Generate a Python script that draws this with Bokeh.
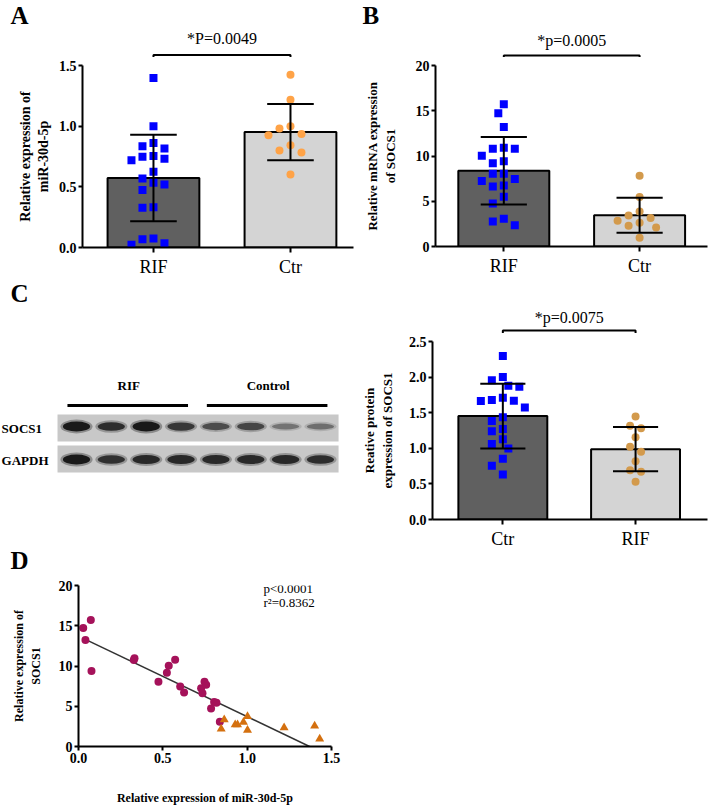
import numpy as np
from bokeh.plotting import figure
from bokeh.models import Range1d, FixedTicker, Label, NumeralTickFormatter
from bokeh.layouts import column, row
from bokeh.embed import file_html
from bokeh.resources import INLINE

# ---------------- data ----------------
# Panel A: relative expression of miR-30d-5p
a_categories = ["RIF", "Ctr"]
a_rif = [1.396, 1.000, 0.862, 0.835, 0.816, 0.755, 0.747, 0.731, 0.720, 0.624,
         0.569, 0.534, 0.520, 0.474, 0.331, 0.328, 0.074, 0.068, 0.036, 0.022]
a_ctr = [1.423, 1.218, 0.999, 0.980, 0.936, 0.925, 0.843, 0.800, 0.783, 0.602]
a_yticks = [0.0, 0.5, 1.0, 1.5]
a_ylabel = "Relative expression of\nmiR-30d-5p"
a_ptext = "*P=0.0049"

# Panel B: relative mRNA expression of SOCS1
b_categories = ["RIF", "Ctr"]
b_rif = [15.72, 14.72, 13.21, 10.92, 10.81, 10.81, 10.04, 9.41, 9.19, 8.04,
         8.04, 7.45, 7.23, 6.75, 6.64, 5.50, 4.76, 3.06, 2.77, 2.36]
b_ctr = [7.82, 5.46, 3.87, 3.43, 3.14, 2.84, 2.62, 2.29, 2.10, 0.96]
b_yticks = [0, 5, 10, 15, 20]
b_ylabel = "Relative mRNA expression\nof SOCS1"
b_ptext = "*p=0.0005"

# Panel C (blot): band strengths per lane
blot_groups = ["RIF", "Control"]
blot_lanes_per_group = 4
blot_proteins = ["SOCS1", "GAPDH"]
socs1_band = [0.97, 0.82, 0.98, 0.75, 0.62, 0.66, 0.40, 0.42]
gapdh_band = [0.98, 0.80, 0.86, 0.86, 0.85, 0.85, 0.86, 0.82]

# Panel C (bars): relative protein expression of SOCS1
c_categories = ["Ctr", "RIF"]
c_ctr = [2.296, 2.003, 1.956, 1.877, 1.863, 1.709, 1.677, 1.667, 1.663, 1.574,
         1.435, 1.383, 1.272, 1.239, 1.127, 1.062, 0.997, 0.852, 0.755, 0.633]
c_rif = [1.447, 1.316, 1.283, 1.156, 1.021, 0.950, 0.819, 0.693, 0.669, 0.529]
c_yticks = [0.0, 0.5, 1.0, 1.5, 2.0, 2.5]
c_ylabel = "Reative protein\nexpression of SOCS1"
c_ptext = "*p=0.0075"

# Panel D: correlation
d_circle_x = [0.028, 0.073, 0.041, 0.077, 0.332, 0.328, 0.474, 0.524, 0.535, 0.573,
              0.603, 0.626, 0.727, 0.735, 0.747, 0.757, 0.804, 0.818, 0.786, 0.838]
d_circle_y = [14.71, 15.71, 13.24, 9.38, 10.95, 10.75, 8.03, 9.15, 10.02, 10.78,
              7.44, 6.72, 7.24, 6.60, 8.03, 7.67, 5.53, 5.45, 4.73, 3.06]
d_tri_x = [0.864, 0.846, 0.929, 0.943, 0.978, 1.002, 1.002, 1.219, 1.400, 1.430]
d_tri_y = [3.34, 2.19, 2.70, 2.70, 3.02, 3.74, 2.03, 2.35, 2.55, 0.95]
d_xticks = [0.0, 0.5, 1.0, 1.5]
d_yticks = [0, 5, 10, 15, 20]
d_xlabel = "Relative expression of miR-30d-5p"
d_ylabel = "Relative expression of\nSOCS1"
d_stats = ["p<0.0001", "r\u00b2=0.8362"]

panel_letters = ["A", "B", "C", "D"]

# ---------------- styling / layout ----------------
FONT = "Liberation Serif"
BLUE = "#0000FF"
DARK_BAR = "#606060"
LIGHT_BAR = "#D4D4D4"
LETTER_SIZE = "25px"


def geom(ox, oy, W, H, bl, br, bt, bb, x0, x1, y0, y1):
    fw = W - bl - br
    fh = H - bt - bb
    return dict(ox=ox, oy=oy, W=W, H=H, bl=bl, br=br, bt=bt, bb=bb,
                x0=x0, x1=x1, y0=y0, y1=y1, ppx=fw / (x1 - x0), ppy=fh / (y1 - y0))


def x_to_px(g, xv):
    return g["ox"] + g["bl"] + (xv - g["x0"]) * g["ppx"]


def px_x(g, px):
    return g["x0"] + (px - g["ox"] - g["bl"]) / g["ppx"]


def px_y(g, py):
    return g["y0"] + (g["oy"] + g["H"] - g["bb"] - py) / g["ppy"]


def no_align(p):
    if "frame_align" in p.properties():
        p.frame_align = False
    return p


def new_fig(g):
    p = figure(width=g["W"], height=g["H"],
               x_range=Range1d(g["x0"], g["x1"]), y_range=Range1d(g["y0"], g["y1"]),
               output_backend="svg", toolbar_location=None,
               min_border_left=g["bl"], min_border_right=g["br"],
               min_border_top=g["bt"], min_border_bottom=g["bb"])
    p.grid.visible = False
    p.outline_line_color = None
    return no_align(p)


def strip_fig(ox, oy, W, H):
    # an axis-free canvas whose data coordinates are page pixels
    p = figure(width=W, height=H, x_range=Range1d(ox, ox + W), y_range=Range1d(oy + H, oy),
               x_axis_type=None, y_axis_type=None, output_backend="svg",
               toolbar_location=None, min_border=0,
               min_border_left=0, min_border_right=0, min_border_top=0, min_border_bottom=0)
    p.grid.visible = False
    p.outline_line_color = None
    return no_align(p)


def style_axes(p, tick_size="14px", label_size="14px"):
    for ax in p.axis:
        ax.axis_line_width = 2
        ax.axis_line_color = "black"
        ax.major_tick_line_width = 2
        ax.major_tick_line_color = "black"
        ax.major_tick_in = 0
        ax.major_tick_out = 4
        ax.minor_tick_line_color = None
        ax.major_label_text_font = FONT
        ax.major_label_text_font_style = "bold"
        ax.major_label_text_font_size = tick_size
        ax.major_label_text_color = "black"
        ax.axis_label_text_font = FONT
        ax.axis_label_text_font_style = "bold"
        ax.axis_label_text_font_size = label_size
        ax.axis_label_text_color = "black"


def swarm(vals, ppy, ppx, step=5.5, mind=10.0):
    vals = np.asarray(vals, dtype=float)
    order = np.argsort(-vals, kind="stable")
    placed = []
    offs = np.zeros(len(vals))
    cands = [0.0] + [s * j * step for j in range(1, 30) for s in (-1, 1)]
    for i in order:
        ypx = vals[i] * ppy
        chosen = cands[-1]
        for c in cands:
            if all((c - qx) ** 2 + (ypx - qy) ** 2 >= mind ** 2 for qx, qy in placed):
                chosen = c
                break
        placed.append((chosen, ypx))
        offs[i] = chosen / ppx
    return offs


def add_letter(p, text, x, y):
    p.add_layout(Label(x=x, y=y, text=text, text_font=FONT, text_font_style="bold",
                       text_font_size=LETTER_SIZE, text_baseline="middle",
                       text_align="left", text_color="black"))


def add_pvalue(strip, g, ncat, text, text_py, bracket_py, drop):
    x_left = x_to_px(g, 0)
    x_right = x_to_px(g, ncat - 1)
    strip.line(x=[x_left, x_left, x_right, x_right],
               y=[bracket_py + drop, bracket_py, bracket_py, bracket_py + drop],
               line_color="black", line_width=2)
    strip.add_layout(Label(x=(x_left + x_right) / 2, y=text_py, text=text, text_font=FONT,
                           text_font_size="16px", text_align="center",
                           text_baseline="middle", text_color="black"))


def bar_panel(g, cats, groups, bar_colors, markers, mcolors, yticks, yfmt, ylabel,
              label_size="14px", label_standoff=10):
    p = new_fig(g)
    idx = np.arange(len(cats))
    means = np.array([np.mean(v) for v in groups])
    sds = np.array([np.std(v, ddof=1) for v in groups])
    p.vbar(x=idx, top=means, width=0.67, fill_color=bar_colors,
           line_color="black", line_width=2)
    for i, vals in enumerate(groups):
        offs = swarm(vals, g["ppy"], g["ppx"])
        p.scatter(x=i + offs, y=vals, marker=markers[i], size=8,
                  fill_color=mcolors[i], line_color=None)
    cap = 0.17
    p.segment(x0=idx, x1=idx, y0=means - sds, y1=means + sds, line_color="black", line_width=2)
    p.segment(x0=idx - cap, x1=idx + cap, y0=means + sds, y1=means + sds,
              line_color="black", line_width=2)
    p.segment(x0=idx - cap, x1=idx + cap, y0=means - sds, y1=means - sds,
              line_color="black", line_width=2)
    style_axes(p, label_size=label_size)
    p.yaxis.ticker = FixedTicker(ticks=yticks, minor_ticks=[])
    p.yaxis.formatter = NumeralTickFormatter(format=yfmt)
    p.yaxis.major_label_standoff = 2
    p.yaxis.axis_label = ylabel
    p.yaxis.axis_label_standoff = label_standoff
    p.xaxis.ticker = FixedTicker(ticks=list(idx), minor_ticks=[])
    p.xaxis.major_label_overrides = {int(i): c for i, c in enumerate(cats)}
    p.xaxis.major_label_text_font_style = "normal"
    p.xaxis.major_label_text_font_size = "18px"
    p.xaxis.major_tick_out = 5
    p.xaxis.major_label_standoff = 4
    return p


# ---------------- row 1: panels A and B ----------------
gA = geom(0, 57, 354, 222, 82, 1, 8, 31, -0.518, 1.460, 0, 1.5)
pA = bar_panel(gA, a_categories, [a_rif, a_ctr], [DARK_BAR, LIGHT_BAR],
               ["square", "circle"], [BLUE, "#FFA347"], a_yticks, "0.0", a_ylabel,
               label_size="14px", label_standoff=5)

gB = geom(354, 57, 354, 222, 81, 1, 8, 33, -0.503, 1.500, 0, 20)
pB = bar_panel(gB, b_categories, [b_rif, b_ctr], [DARK_BAR, LIGHT_BAR],
               ["square", "circle"], [BLUE, "#D39A4C"], b_yticks, "0", b_ylabel,
               label_size="13px", label_standoff=15)

top_strip = strip_fig(0, 0, 708, 57)
add_letter(top_strip, panel_letters[0], 10, 14.5)
add_letter(top_strip, panel_letters[1], 362, 14.5)
add_pvalue(top_strip, gA, len(a_categories), a_ptext, 38, 54.5, 2.5)
add_pvalue(top_strip, gB, len(b_categories), b_ptext, 40, 55, 2)

# ---------------- row 2 left: western blot ----------------
n_lanes = len(socs1_band)
lanes = np.arange(n_lanes)
pW = figure(width=354, height=295, x_range=Range1d(-2.181, 7.977), y_range=Range1d(574, 279),
            x_axis_type=None, y_axis_type=None, output_backend="svg",
            toolbar_location=None, min_border=0,
            min_border_left=0, min_border_right=0, min_border_top=0, min_border_bottom=0)
pW.grid.visible = False
pW.outline_line_color = None
no_align(pW)
band_rows = [(426, 414, 441, 428), (459, 445, 472, 460)]
for prot, bands, (yc, ytop, ybot, ylab) in zip(blot_proteins, [socs1_band, gapdh_band], band_rows):
    bands = np.asarray(bands)
    pW.quad(left=-0.545, right=7.52, top=ytop, bottom=ybot,
            fill_color="#C8C8C8", line_color=None)
    pW.ellipse(x=lanes, y=yc, width=0.92, height=6 + 8 * bands,
               fill_color="#404040", fill_alpha=0.45 * bands, line_color=None)
    pW.ellipse(x=lanes, y=yc, width=0.78, height=3 + 7 * bands,
               fill_color="#101010", fill_alpha=0.95 * bands, line_color=None)
    pW.add_layout(Label(x=-2.15, y=ylab, text=prot, text_font=FONT, text_font_style="bold",
                        text_font_size="13px", text_baseline="middle", text_align="left",
                        text_color="black"))
for gi, gname in enumerate(blot_groups):
    first = gi * blot_lanes_per_group
    last = first + blot_lanes_per_group - 1
    pW.line(x=[first - 0.26, last + 0.2], y=[405, 405], line_color="black", line_width=3)
    pW.add_layout(Label(x=(first + last) / 2, y=385, text=gname, text_font=FONT,
                        text_font_style="bold", text_font_size="13px", text_align="center",
                        text_baseline="middle", text_color="black"))
add_letter(pW, panel_letters[2], -1.894, 293)
add_letter(pW, panel_letters[3], -1.894, 559.5)

# ---------------- row 2 right: protein bars ----------------
gC = geom(354, 333, 354, 218, 78, 1, 8, 32, -0.530, 1.542, 0, 2.5)
pC = bar_panel(gC, c_categories, [c_ctr, c_rif], [DARK_BAR, LIGHT_BAR],
               ["square", "circle"], [BLUE, "#D39A4C"], c_yticks, "0.0", c_ylabel,
               label_size="13px", label_standoff=11)
c_strip = strip_fig(354, 279, 354, 54)
add_pvalue(c_strip, gC, len(c_categories), c_ptext, 316.7, 330, 3)

# ---------------- row 3: panel D ----------------
gD = geom(0, 574, 354, 233, 78, 23, 11, 54, 0, 1.5, 0, 20)
pD = new_fig(gD)
all_x = np.array(d_circle_x + d_tri_x)
all_y = np.array(d_circle_y + d_tri_y)
slope, intercept = np.polyfit(all_x, all_y, 1)
lx = np.array([all_x.min(), all_x.max()])
pD.line(x=lx, y=intercept + slope * lx, line_color="#333333", line_width=1.6)
pD.scatter(x=d_circle_x, y=d_circle_y, marker="circle", size=8,
           fill_color="#A5125A", line_color=None)
pD.scatter(x=d_tri_x, y=d_tri_y, marker="triangle", size=9,
           fill_color="#D4700F", line_color=None)
for txt, py in zip(d_stats, [588, 603]):
    pD.add_layout(Label(x=px_x(gD, 263), y=px_y(gD, py), text=txt, text_font=FONT,
                        text_font_size="13px", text_align="left", text_baseline="middle",
                        text_color="black"))
style_axes(pD, tick_size="14px", label_size="12px")
pD.xaxis.ticker = FixedTicker(ticks=d_xticks, minor_ticks=[])
pD.yaxis.ticker = FixedTicker(ticks=d_yticks, minor_ticks=[])
pD.xaxis.formatter = NumeralTickFormatter(format="0.0")
pD.yaxis.formatter = NumeralTickFormatter(format="0")
pD.xaxis.major_label_standoff = 2
pD.yaxis.major_label_standoff = 2
pD.xaxis.axis_label = d_xlabel
pD.yaxis.axis_label = d_ylabel
pD.xaxis.axis_label_standoff = 25
pD.yaxis.axis_label_standoff = 13

layout = column(top_strip, row(pA, pB), row(pW, column(c_strip, pC)), pD)
open("out.html", "w").write(file_html(layout, INLINE))
